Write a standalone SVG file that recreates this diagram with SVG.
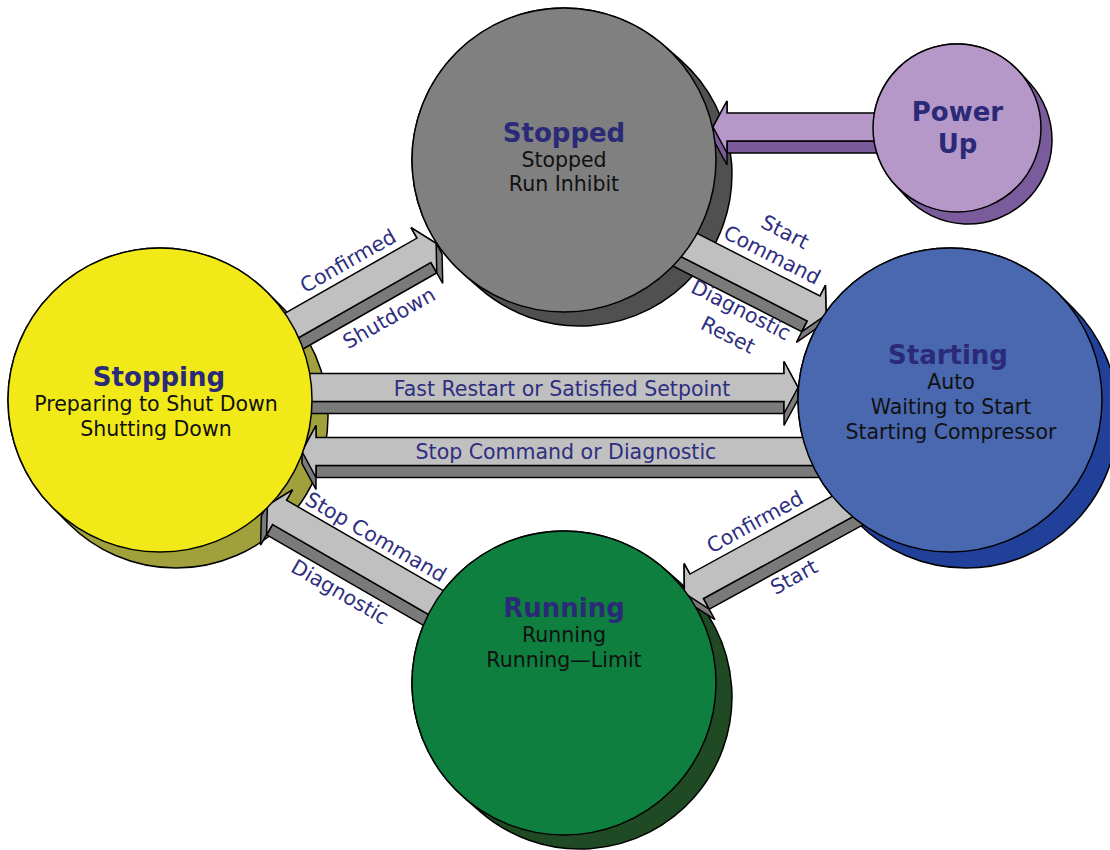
<svg xmlns="http://www.w3.org/2000/svg" width="1110" height="850" viewBox="0 0 1110 850">
<style>
.edge{stroke:#000;stroke-width:1.5;stroke-linejoin:round}
.al{fill:#c0c0c0;stroke:#000;stroke-width:1.5;stroke-linejoin:miter}
.ad{fill:#7a7a7a;stroke:#000;stroke-width:1.5;stroke-linejoin:miter}
.pl{fill:#b598c8;stroke:#000;stroke-width:1.5;stroke-linejoin:miter}
.pd{fill:#7a5a98;stroke:#000;stroke-width:1.5;stroke-linejoin:miter}
text{font-family:"DejaVu Sans",Verdana,sans-serif;text-anchor:middle}
.title{font-weight:bold;font-size:26px;fill:#2b2a78}
.sub{font-size:20.5px;fill:#111}
.lbl{font-size:20.5px;fill:#2e2e80}
</style>
<rect width="1110" height="850" fill="#fff"/>

<g id="depth">
  <path id="stopped-side" class="edge" fill="#505050" d="M463.9,274.4 L479.9,288.4 A152,152 0 0 0 680.1,59.6 L664.1,45.6 A152,152 0 0 0 463.9,274.4 Z"/>
  <path id="stopping-side" class="edge" fill="#a0a03c" d="M52.5,507.5 L68.5,523.5 A152,152 0 0 0 283.5,308.5 L267.5,292.5 A152,152 0 0 0 52.5,507.5 Z"/>
  <path id="starting-side" class="edge" fill="#20409a" d="M842.5,507.5 L858.5,523.5 A152,152 0 0 0 1073.5,308.5 L1057.5,292.5 A152,152 0 0 0 842.5,507.5 Z"/>
  <path id="running-side" class="edge" fill="#1f4a23" d="M463.9,797.4 L479.9,811.4 A152,152 0 0 0 680.1,582.6 L664.1,568.6 A152,152 0 0 0 463.9,797.4 Z"/>
  <path id="powerup-side" class="edge" fill="#7a5c9c" d="M895.1,184.8 L906.1,196.8 A84,84 0 0 0 1029.9,83.2 L1018.9,71.2 A84,84 0 0 0 895.1,184.8 Z"/>
</g>

<g id="connectors">
  <g id="powerup-stopped" transform="translate(900,127) scale(-1,1)">
    <path class="pd" d="M0,14 H173 V26 H0 Z"/>
    <path class="pd" d="M173,-26 L187,0 L187,12 L173,38 Z"/>
    <path class="pl" d="M0,-14 H173 V-26 L187,0 L173,26 V14 H0 Z"/>
  </g>
  <g id="stopping-stopped" transform="translate(267.5,339.3) rotate(-29.65)">
    <path class="ad" d="M0,14 H180 V26 H0 Z"/>
    <path class="ad" d="M180,-26 L194,0 L194,12 L180,38 Z"/>
    <path class="al" d="M0,-14 H180 V-26 L194,0 L180,26 V14 H0 Z"/>
  </g>
  <g id="stopped-starting" transform="translate(680,240.4) rotate(27)">
    <path class="ad" d="M0,14 H150 V26 H0 Z"/>
    <path class="ad" d="M150,-26 L164,0 L164,12 L150,38 Z"/>
    <path class="al" d="M0,-14 H150 V-26 L164,0 L150,26 V14 H0 Z"/>
  </g>
  <g id="stopping-starting" transform="translate(300,387.5)">
    <path class="ad" d="M0,14 H484 V26 H0 Z"/>
    <path class="ad" d="M484,-26 L498,0 L498,12 L484,38 Z"/>
    <path class="al" d="M0,-14 H484 V-26 L498,0 L484,26 V14 H0 Z"/>
  </g>
  <g id="starting-stopping" transform="translate(830,451.5) scale(-1,1)">
    <path class="ad" d="M0,14 H514 V26 H0 Z"/>
    <path class="ad" d="M514,-26 L528,0 L528,12 L514,38 Z"/>
    <path class="al" d="M0,-14 H514 V-26 L528,0 L514,26 V14 H0 Z"/>
  </g>
  <g id="starting-running" transform="translate(858.9,497.5) rotate(-28.7) scale(-1,1)">
    <path class="ad" d="M0,14 H185 V26 H0 Z"/>
    <path class="ad" d="M185,-26 L199,0 L199,12 L185,38 Z"/>
    <path class="al" d="M0,-14 H185 V-26 L199,0 L185,26 V14 H0 Z"/>
  </g>
  <g id="running-stopping" transform="translate(461.4,617.3) rotate(30) scale(-1,1)">
    <path class="ad" d="M0,14 H210 V26 H0 Z"/>
    <path class="ad" d="M210,-26 L224,0 L224,12 L210,38 Z"/>
    <path class="al" d="M0,-14 H210 V-26 L224,0 L210,26 V14 H0 Z"/>
  </g>
  <g id="connector-labels" class="lbl">
    <text class="lbl" transform="translate(348,261) rotate(-29.65)" y="7">Confirmed</text>
    <text class="lbl" transform="translate(389,318) rotate(-29.65)" y="7">Shutdown</text>
    <text class="lbl" transform="translate(785,232) rotate(27)" y="7">Start</text>
    <text class="lbl" transform="translate(772,255) rotate(27)" y="7">Command</text>
    <text class="lbl" transform="translate(741,310) rotate(27)" y="7">Diagnostic</text>
    <text class="lbl" transform="translate(728,335) rotate(27)" y="7">Reset</text>
    <text class="lbl" x="562" y="396">Fast Restart or Satisfied Setpoint</text>
    <text class="lbl" x="566" y="459">Stop Command or Diagnostic</text>
    <text class="lbl" transform="translate(755,522) rotate(-28.7)" y="7">Confirmed</text>
    <text class="lbl" transform="translate(794,577) rotate(-28.7)" y="7">Start</text>
    <text class="lbl" transform="translate(376,537) rotate(30)" y="7">Stop Command</text>
    <text class="lbl" transform="translate(340,592) rotate(30)" y="7">Diagnostic</text>
  </g>
</g>

<g id="stopped">
  <circle class="edge" cx="564" cy="160" r="152" fill="#808080"/>
  <text class="title" x="564" y="141.5">Stopped</text>
  <text class="sub" x="564" y="166.5">Stopped</text>
  <text class="sub" x="564" y="191">Run Inhibit</text>
</g>
<g id="powerup">
  <circle class="edge" cx="957" cy="128" r="84" fill="#b598c8"/>
  <text class="title" x="957.5" y="121">Power</text>
  <text class="title" x="957.5" y="153">Up</text>
</g>
<g id="stopping">
  <circle class="edge" cx="160" cy="400" r="152" fill="#f2ea18"/>
  <text class="title" x="159" y="386">Stopping</text>
  <text class="sub" x="156" y="411">Preparing to Shut Down</text>
  <text class="sub" x="156" y="436">Shutting Down</text>
</g>
<g id="starting">
  <circle class="edge" cx="950" cy="400" r="152" fill="#4a68b0"/>
  <text class="title" x="948" y="363.5">Starting</text>
  <text class="sub" x="951" y="388.5">Auto</text>
  <text class="sub" x="951" y="414">Waiting to Start</text>
  <text class="sub" x="951" y="438.5">Starting Compressor</text>
</g>
<g id="running">
  <circle class="edge" cx="564" cy="683" r="152" fill="#0e7f3e"/>
  <text class="title" x="564" y="617">Running</text>
  <text class="sub" x="564" y="642">Running</text>
  <text class="sub" x="564" y="667">Running—Limit</text>
</g>
</svg>
